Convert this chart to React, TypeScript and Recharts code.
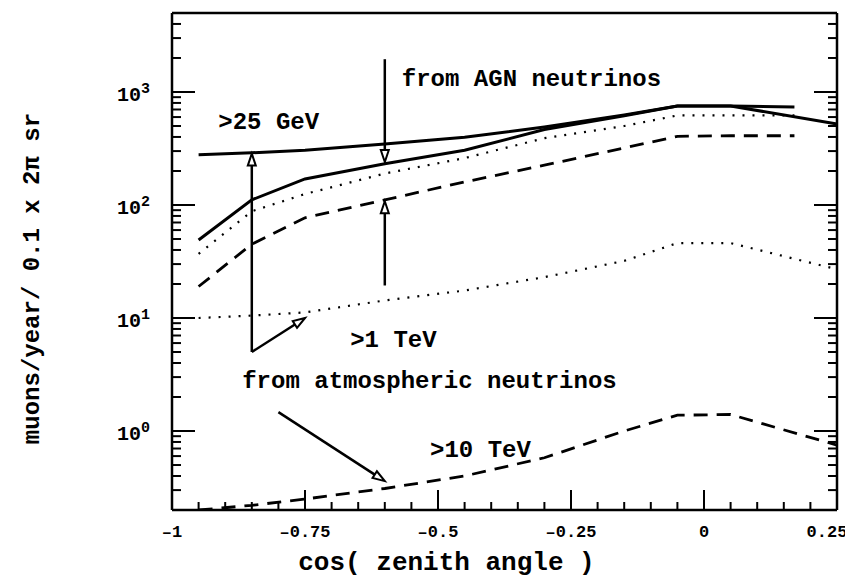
import React from 'react'
import { LineChart, Line, XAxis, YAxis, ReferenceLine, ReferenceDot, Label } from 'recharts'

const FONT = '"Liberation Mono", "DejaVu Sans Mono", monospace'
const INK = '#000'

// cos(zenith) sample points
const atmX = [-0.95, -0.85, -0.75, -0.6, -0.45, -0.3, -0.15, -0.05, 0.05, 0.25]
const agnX = [-0.95, -0.85, -0.75, -0.6, -0.45, -0.3, -0.15, -0.05, 0.05, 0.17]

// muons / year / 0.1 x 2pi sr
const atm25GeV = [278, 290, 305, 347, 398, 490, 625, 752, 752, 521]
const atm1TeV = [10, 10.5, 11.2, 14.3, 17.5, 23, 32, 46, 46, 27]
const atm10TeV = [0.2, 0.22, 0.25, 0.31, 0.4, 0.58, 1.0, 1.38, 1.4, 0.75]
const agn25GeV = [49, 111, 170, 232, 305, 465, 615, 752, 752, 735]
const agn1TeV = [37, 88, 125, 190, 260, 390, 500, 620, 620, 620]
const agn10TeV = [19, 45, 77, 111, 160, 225, 320, 405, 410, 410]

const xTicks = [
  -1, -0.95, -0.9, -0.85, -0.8, -0.75, -0.7, -0.65, -0.6, -0.55, -0.5, -0.45, -0.4,
  -0.35, -0.3, -0.25, -0.2, -0.15, -0.1, -0.05, 0, 0.05, 0.1, 0.15, 0.2, 0.25,
]
const yTicks = [
  0.2, 0.3, 0.4, 0.5, 0.6, 0.7, 0.8, 0.9, 1, 2, 3, 4, 5, 6, 7, 8, 9, 10, 20, 30, 40, 50,
  60, 70, 80, 90, 100, 200, 300, 400, 500, 600, 700, 800, 900, 1000, 2000, 3000, 4000, 5000,
]

// annotation text, anchored at its left baseline
const notes = [
  { x: -0.913, y: 471, text: '>25 GeV' },
  { x: -0.568, y: 1130, text: 'from AGN neutrinos' },
  { x: -0.665, y: 5.5, text: '>1 TeV' },
  { x: -0.868, y: 2.4, text: 'from atmospheric neutrinos' },
  { x: -0.515, y: 0.59, text: '>10 TeV' },
]

// arrows: from -> to (head at "to")
const arrows = [
  { from: { x: -0.6, y: 1950 }, to: { x: -0.6, y: 240 } },
  { from: { x: -0.6, y: 19.4 }, to: { x: -0.6, y: 108 } },
  { from: { x: -0.85, y: 5 }, to: { x: -0.85, y: 285 } },
  { from: { x: -0.85, y: 5 }, to: { x: -0.75, y: 10 } },
  { from: { x: -0.8, y: 1.47 }, to: { x: -0.6, y: 0.36 } },
]

const toPoints = (xs: number[], ys: number[]) => xs.map((x, i) => ({ x, y: ys[i] }))

const isMajorX = (v: number) => Math.abs(v * 4 - Math.round(v * 4)) < 1e-6
const isMajorY = (v: number) => {
  const l = Math.log10(v)
  return Math.abs(l - Math.round(l)) < 1e-6
}
const fmtX = (v: number) => String(v).replace('-', '\u2013')

const BottomTick = (props: any) => {
  const { x, y, payload } = props
  const major = isMajorX(payload.value)
  // keep the last label inside the picture, as in the original
  const lx = payload.value === 0.25 ? x - 10 : x
  return (
    <g>
      <line x1={x} y1={y} x2={x} y2={y - (major ? 20 : 8)} stroke={INK} strokeWidth={2} />
      {major && (
        <text x={lx} y={y + 27} textAnchor="middle" fontFamily={FONT} fontWeight="bold" fontSize={17} fill={INK}>
          {fmtX(payload.value)}
        </text>
      )}
    </g>
  )
}

const TopTick = (props: any) => {
  const { x, y, payload } = props
  const major = isMajorX(payload.value)
  return <line x1={x} y1={y} x2={x} y2={y + (major ? 20 : 8)} stroke={INK} strokeWidth={2} />
}

const LeftTick = (props: any) => {
  const { x, y, payload } = props
  const major = isMajorY(payload.value)
  return (
    <g>
      <line x1={x} y1={y} x2={x + (major ? 23 : 9)} y2={y} stroke={INK} strokeWidth={2} />
      {major && (
        <text x={x - 22} y={y + 9} textAnchor="end" fontFamily={FONT} fontWeight="bold" fontSize={20} fill={INK}>
          <tspan>10</tspan>
          <tspan dy={-8} fontSize={15}>{Math.round(Math.log10(payload.value))}</tspan>
        </text>
      )}
    </g>
  )
}

const RightTick = (props: any) => {
  const { x, y, payload } = props
  const major = isMajorY(payload.value)
  return <line x1={x} y1={y} x2={x - (major ? 23 : 9)} y2={y} stroke={INK} strokeWidth={2} />
}

const Arrow = (props: any) => {
  const { x1, y1, x2, y2 } = props
  const ang = Math.atan2(y2 - y1, x2 - x1)
  const L = 12
  const W = 4
  const bx = x2 - L * Math.cos(ang)
  const by = y2 - L * Math.sin(ang)
  const px = -Math.sin(ang) * W
  const py = Math.cos(ang) * W
  return (
    <g>
      <line x1={x1} y1={y1} x2={bx} y2={by} stroke={INK} strokeWidth={2.5} />
      <polygon
        points={`${x2},${y2} ${bx + px},${by + py} ${bx - px},${by - py}`}
        fill="#fff"
        stroke={INK}
        strokeWidth={2}
      />
    </g>
  )
}

const axisLine = { stroke: INK, strokeWidth: 2.5 }

export default function App() {
  return (
    <LineChart width={845} height={571} margin={{ top: 0, right: 0, bottom: 0, left: 0 }}>
      <XAxis
        xAxisId="bottom"
        dataKey="x"
        type="number"
        domain={[-1, 0.25]}
        ticks={xTicks}
        interval={0}
        tickSize={0}
        tickMargin={0}
        tickLine={false}
        axisLine={axisLine}
        tick={<BottomTick />}
        height={69}
      >
        <Label
          content={(p: any) => {
            const vb = p.viewBox
            return (
              <text
                x={vb.x + vb.width / 2 - 58}
                y={vb.y + 60}
                textAnchor="middle"
                fontFamily={FONT}
                fontWeight="bold"
                fontSize={26}
                fill={INK}
              >
                cos( zenith angle )
              </text>
            )
          }}
        />
      </XAxis>
      <XAxis
        xAxisId="top"
        orientation="top"
        type="number"
        domain={[-1, 0.25]}
        ticks={xTicks}
        interval={0}
        tickSize={0}
        tickMargin={0}
        tickLine={false}
        axisLine={axisLine}
        tick={<TopTick />}
        height={5}
      />
      <YAxis
        yAxisId="left"
        type="number"
        scale="log"
        domain={[0.2, 5000]}
        allowDataOverflow
        ticks={yTicks}
        interval={0}
        tickSize={0}
        tickMargin={0}
        tickLine={false}
        axisLine={axisLine}
        tick={<LeftTick />}
        width={164}
      >
        <Label
          content={(p: any) => {
            const vb = p.viewBox
            const cx = vb.x + 24
            const cy = vb.y + vb.height / 2 + 17
            return (
              <text
                transform={`translate(${cx}, ${cy}) rotate(-90)`}
                textAnchor="middle"
                dominantBaseline="central"
                fontFamily={FONT}
                fontWeight="bold"
                fontSize={24}
                fill={INK}
              >
                muons/year/ 0.1 x 2π sr
              </text>
            )
          }}
        />
      </YAxis>
      <YAxis
        yAxisId="right"
        orientation="right"
        type="number"
        scale="log"
        domain={[0.2, 5000]}
        allowDataOverflow
        ticks={yTicks}
        interval={0}
        tickSize={0}
        tickMargin={0}
        tickLine={false}
        axisLine={axisLine}
        tick={<RightTick />}
        width={16}
      />

      <Line xAxisId="bottom" yAxisId="left" data={toPoints(atmX, atm25GeV)} dataKey="y" stroke={INK} strokeWidth={3} dot={false} isAnimationActive={false} />
      <Line xAxisId="bottom" yAxisId="left" data={toPoints(atmX, atm1TeV)} dataKey="y" stroke={INK} strokeWidth={2.2} strokeDasharray="2 8" dot={false} isAnimationActive={false} />
      <Line xAxisId="bottom" yAxisId="left" data={toPoints(atmX, atm10TeV)} dataKey="y" stroke={INK} strokeWidth={2.8} strokeDasharray="14 9" dot={false} isAnimationActive={false} />
      <Line xAxisId="bottom" yAxisId="left" data={toPoints(agnX, agn25GeV)} dataKey="y" stroke={INK} strokeWidth={3} dot={false} isAnimationActive={false} />
      <Line xAxisId="bottom" yAxisId="left" data={toPoints(agnX, agn1TeV)} dataKey="y" stroke={INK} strokeWidth={2.2} strokeDasharray="2 8" dot={false} isAnimationActive={false} />
      <Line xAxisId="bottom" yAxisId="left" data={toPoints(agnX, agn10TeV)} dataKey="y" stroke={INK} strokeWidth={2.8} strokeDasharray="14 9" dot={false} isAnimationActive={false} />

      {arrows.map((a, i) => (
        <ReferenceLine
          key={`arrow-${i}`}
          xAxisId="bottom"
          yAxisId="left"
          segment={[a.from, a.to]}
          ifOverflow="visible"
          shape={Arrow}
        />
      ))}

      {notes.map((n, i) => (
        <ReferenceDot
          key={`note-${i}`}
          xAxisId="bottom"
          yAxisId="left"
          x={n.x}
          y={n.y}
          r={0}
          ifOverflow="visible"
          shape={(p: any) => (
            <text x={p.cx} y={p.cy} fontFamily={FONT} fontWeight="bold" fontSize={24} fill={INK}>
              {n.text}
            </text>
          )}
        />
      ))}
    </LineChart>
  )
}
